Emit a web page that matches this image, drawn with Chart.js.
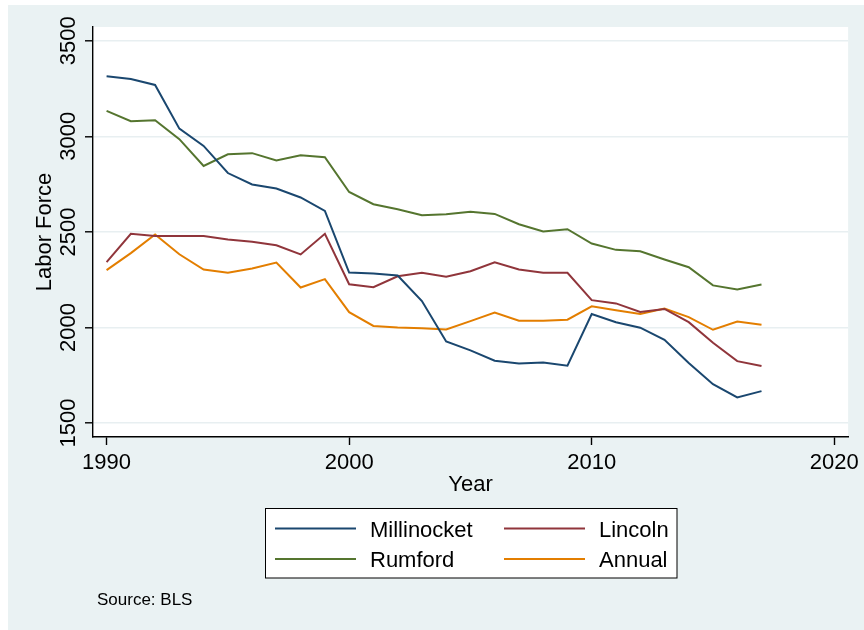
<!DOCTYPE html>
<html>
<head>
<meta charset="utf-8">
<script src="https://cdn.jsdelivr.net/npm/chart.js@4/dist/chart.umd.min.js"></script>
<style>
  html, body { margin: 0; padding: 0; background: #ffffff; }
  #wrap { position: relative; width: 864px; height: 630px; }
</style>
</head>
<body>
<div id="wrap"><canvas id="c" width="864" height="630"></canvas></div>
<script>
// Labor force by year
const years = [1990, 1991, 1992, 1993, 1994, 1995, 1996, 1997, 1998, 1999,
               2000, 2001, 2002, 2003, 2004, 2005, 2006, 2007, 2008, 2009,
               2010, 2011, 2012, 2013, 2014, 2015, 2016, 2017];
const millinocket = [3314, 3300, 3269, 3040, 2950, 2808, 2748, 2727, 2680, 2610,
                     2287, 2282, 2272, 2138, 1927, 1880, 1826, 1812, 1817, 1800,
                     2070, 2027, 1999, 1935, 1814, 1703, 1634, 1667];
const lincoln = [2342, 2490, 2478, 2478, 2478, 2460, 2448, 2430, 2382, 2490,
                 2226, 2211, 2268, 2286, 2265, 2294, 2341, 2303, 2286, 2286,
                 2143, 2126, 2081, 2097, 2028, 1920, 1824, 1798];
const rumford = [3133, 3079, 3084, 2985, 2845, 2906, 2912, 2874, 2901, 2891,
                 2709, 2645, 2619, 2587, 2593, 2605, 2594, 2540, 2502, 2514,
                 2439, 2406, 2399, 2356, 2315, 2220, 2199, 2225];
const annual = [2300, 2389, 2486, 2383, 2303, 2286, 2309, 2340, 2209, 2253,
                2080, 2008, 2000, 1996, 1990, 2033, 2078, 2035, 2035, 2041,
                2111, 2090, 2070, 2099, 2054, 1988, 2031, 2014];

const seriesNames = ['Millinocket', 'Lincoln', 'Rumford', 'Annual'];
const seriesColors = ['#1a476f', '#90353b', '#55752f', '#e37e00'];
const xTicks = [1990, 2000, 2010, 2020];
const yTicks = [1500, 2000, 2500, 3000, 3500];
const sourceNote = 'Source: BLS';

const FONT = '"Liberation Sans", Arial, sans-serif';
const BG = '#eaf2f3';

const toPoints = arr => years.map((yr, i) => ({ x: yr, y: arr[i] }));
const seriesValues = [millinocket, lincoln, rumford, annual];

// Panel background, white plot region
const backdrop = {
  id: 'backdrop',
  beforeDraw(chart) {
    const { ctx, width, height, chartArea: a } = chart;
    ctx.save();
    ctx.fillStyle = '#ffffff';
    ctx.fillRect(0, 0, width, height);
    ctx.fillStyle = BG;
    ctx.fillRect(8, 5, width - 8, height - 5);
    ctx.fillStyle = '#ffffff';
    ctx.fillRect(a.left, a.top, a.right - a.left, a.bottom - a.top);
    ctx.restore();
  }
};

// Boxed two-column key and the source note
const keyBox = {
  id: 'keyBox',
  afterDraw(chart) {
    const { ctx } = chart;
    const ds = chart.data.datasets;
    ctx.save();
    const bx = 265.5, by = 508.5, bw = 411.5, bh = 69.5;
    ctx.fillStyle = '#ffffff';
    ctx.fillRect(bx, by, bw, bh);
    ctx.strokeStyle = '#000000';
    ctx.lineWidth = 1;
    ctx.strokeRect(bx, by, bw, bh);

    const cols = [{ x0: 275, x1: 356, tx: 370 }, { x0: 504, x1: 585, tx: 599 }];
    const rows = [{ ly: 528.5, ty: 536.5 }, { ly: 559, ty: 567 }];
    ctx.font = '22px ' + FONT;
    ctx.textBaseline = 'alphabetic';
    ctx.textAlign = 'left';
    ds.forEach((d, i) => {
      const c = cols[i % 2], r = rows[Math.floor(i / 2)];
      ctx.strokeStyle = d.borderColor;
      ctx.lineWidth = 2;
      ctx.beginPath();
      ctx.moveTo(c.x0, r.ly);
      ctx.lineTo(c.x1, r.ly);
      ctx.stroke();
      ctx.fillStyle = '#000000';
      ctx.fillText(d.label, c.tx, r.ty);
    });

    ctx.font = '17px ' + FONT;
    ctx.fillStyle = '#000000';
    ctx.fillText(sourceNote, 97, 605);
    ctx.restore();
  }
};

new Chart(document.getElementById('c'), {
  type: 'line',
  data: {
    datasets: seriesNames.map((name, i) => ({
      label: name,
      data: toPoints(seriesValues[i]),
      borderColor: seriesColors[i],
      backgroundColor: seriesColors[i],
      borderWidth: 2,
      pointRadius: 0,
      tension: 0,
      fill: false
    }))
  },
  options: {
    responsive: false,
    devicePixelRatio: 1,
    animation: false,
    events: [],
    layout: { padding: { left: 0, top: 27, right: 14, bottom: 131 } },
    plugins: {
      legend: { display: false },
      tooltip: { enabled: false }
    },
    scales: {
      x: {
        type: 'linear',
        min: 1989.44,
        max: 2020.57,
        afterBuildTicks: s => { s.ticks = xTicks.map(v => ({ value: v })); },
        afterFit: s => { s.height = 62; },
        ticks: {
          font: { family: FONT, size: 22 },
          color: '#000000',
          padding: 5,
          maxRotation: 0,
          autoSkip: false,
          callback: v => String(v)
        },
        grid: {
          drawOnChartArea: false,
          drawTicks: true,
          tickLength: 8,
          tickColor: '#000000',
          tickWidth: 1.4
        },
        border: { display: true, color: '#000000', width: 1.4 },
        title: {
          display: true,
          text: 'Year',
          color: '#000000',
          font: { family: FONT, size: 22 },
          padding: { top: 0, bottom: 1 }
        }
      },
      y: {
        min: 1427,
        max: 3572,
        afterBuildTicks: s => { s.ticks = yTicks.map(v => ({ value: v })); },
        afterFit: s => { s.width = 93; },
        ticks: {
          font: { family: FONT, size: 22 },
          color: '#000000',
          minRotation: 90,
          maxRotation: 90,
          crossAlign: 'center',
          padding: -8,
          autoSkip: false,
          callback: v => String(v)
        },
        grid: {
          color: '#e8eff1',
          lineWidth: 1.6,
          drawTicks: true,
          tickLength: 8,
          tickColor: '#000000',
          tickWidth: 1.4
        },
        border: { display: true, color: '#000000', width: 1.4 },
        title: {
          display: true,
          text: 'Labor Force',
          color: '#000000',
          font: { family: FONT, size: 22 },
          padding: { top: 31.8, bottom: 0 }
        }
      }
    }
  },
  plugins: [backdrop, keyBox]
});
</script>
</body>
</html>
